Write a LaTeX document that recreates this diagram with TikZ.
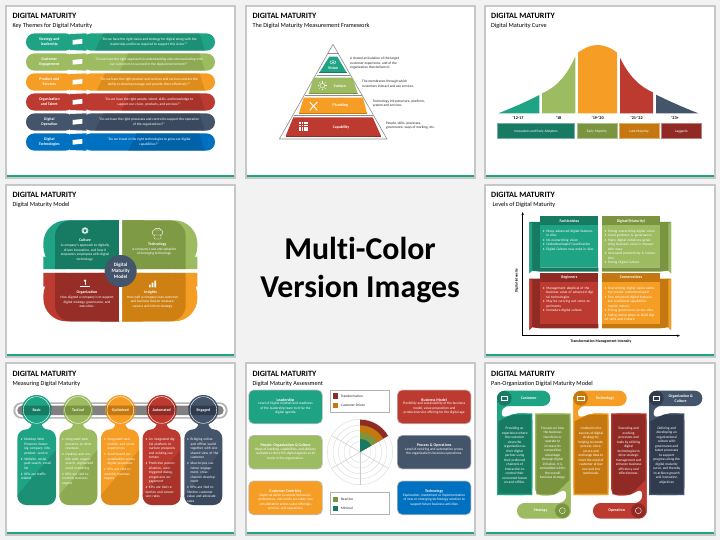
\documentclass[tikz,border=0pt]{standalone}
\usepackage{fontspec}
\setmainfont{Carlito}[Ligatures=NoCommon]
\usetikzlibrary{arrows.meta}
\definecolor{teal1}{HTML}{1FA385}
\definecolor{teal2}{HTML}{177A62}
\definecolor{green1}{HTML}{9DBB61}
\definecolor{green2}{HTML}{7A9440}
\definecolor{orange1}{HTML}{F59D24}
\definecolor{orange2}{HTML}{C4780F}
\definecolor{red1}{HTML}{BC3A30}
\definecolor{red2}{HTML}{8F2B24}
\definecolor{navy1}{HTML}{44546A}
\definecolor{navy2}{HTML}{303C4E}
\definecolor{blue1}{HTML}{0070C0}
\definecolor{blue2}{HTML}{005490}
\tikzset{
  paneltitle/.style={anchor=west,inner sep=0,font=\bfseries\fontsize{8.1}{9}\selectfont},
  panelsub/.style={anchor=west,inner sep=0,font=\fontsize{6.2}{7}\selectfont},
  wtext/.style={inner sep=0,align=center,text=white,font=\fontsize{3.55}{4.5}\selectfont},
  wbold/.style={inner sep=0,align=center,text=white,font=\bfseries\fontsize{3.9}{5}\selectfont},
  btext/.style={inner sep=0,align=left,anchor=west,text=black!85,font=\fontsize{3.55}{4.5}\selectfont},
  listbox/.style={inner sep=0,anchor=north west,text=white,align=left,font=\fontsize{3.55}{4.5}\selectfont},
  iconline/.style={draw=white,line width=.35pt},
}
\newcommand{\slidepanel}[4]{
  \fill[black!22] (#1-6,#2-6) rectangle (707,#2+516);
  \fill[white] (#1,#2) rectangle (701,#2+510);
  \fill[teal1] (#1,#2+504) rectangle (701,#2+510);
  \node[paneltitle] (#4title) at (#1+16,#2+28) {DIGITAL MATURITY};
  \node[panelsub] (#4sub) at (#1+16,#2+58) {#3};
}
\newcommand{\bitem}[1]{\par\hangindent=3.4pt\hangafter=1\noindent\makebox[3.4pt][l]{\textbullet}#1}
\begin{document}
\begin{tikzpicture}[x=0.33333pt,y=-0.33333pt]
\useasboundingbox (0,0) rectangle (2160,1620);
\fill[black!5] (0,0) rectangle (2160,1620);

% key themes
\begin{scope}
\slidepanel{21}{20}{Key Themes for Digital Maturity}{a}
\foreach \yy/\xl/\cola/\colb/\na/\nb in {
  126/285/teal1/teal2/{Strategy and\\leadership}/{``Do we have the right vision and strategy for digital along with the\\leadership and focus required to support this vision?''},
  186/360/green1/green2/{Customer\\Engagement}/{``Do we have the right approach to understanding and communicating with\\our customers to succeed in the digital environment?''},
  246/290/orange1/orange2/{Product and\\Services}/{``Do we have the right product and services and services and are the\\ability to develop manage and provide them effectively?''},
  306/365/red1/red2/{Organization\\and Talent}/{``Do we have the right people, talent, skills, and knowledge to\\support our vision, products, and services?''},
  366/285/navy1/navy2/{Digital\\Operation}/{``Do we have the right processes and control to support the operation\\of the organizations?''},
  426/385/blue1/blue2/{Digital\\Technologies}/{``Do we invest in the right technologies to grow our digital\\capabilities?''}}
{
  \fill[\cola,rounded corners=8.6pt] (78,\yy-26) rectangle (222,\yy+26);
  \fill[\cola,rounded corners=8.6pt] (248,\yy-26) rectangle (645,\yy+26);
  \fill[\cola] (210,\yy-24) -- (260,\yy-26) -- (260,\yy+26) -- (210,\yy+24) -- cycle;
  \begin{scope}
    \clip[rounded corners=8.6pt] (248,\yy-26) rectangle (645,\yy+26);
    \fill[\colb,opacity=.45] (\xl,\yy+26) -- (\xl+25,\yy-26) -- (598,\yy-26) -- (615,\yy+26) -- cycle;
  \end{scope}
  \fill[white] (218,\yy-6) -- (247,\yy-9) -- (247,\yy+5) -- (218,\yy+8) -- cycle;
  \node[wbold] (n\yy) at (148,\yy) {\na};
  \node[wtext] (q\yy) at (447,\yy) {\nb};
}
\end{scope}

% pyramid
\begin{scope}[shift={(720,0)}]
\slidepanel{21}{20}{The Digital Maturity Measurement Framework}{b}
\draw[black!45,line width=.6pt,line join=round] (279,133) -- (441,417) -- (118,417) -- cycle;
\draw[black!45,line width=.5pt] (263,160) -- (296,160) (230,226) -- (330,226) (195,287) -- (366,287) (161,347) -- (400,347);
\fill[teal1] (268,170) -- (292,170) -- (320,218) -- (238,218) -- cycle;
\fill[green1] (221,233) -- (338,233) -- (353,281) -- (206,281) -- cycle;
\fill[orange1] (191,293) -- (369,293) -- (381,340) -- (177,340) -- cycle;
\fill[red1] (160,352) -- (398,352) -- (423,408) -- (137,408) -- cycle;
\draw[teal2,line width=.5pt] (238,218) -- (320,218);
\draw[green2,line width=.5pt] (206,281) -- (353,281);
\draw[orange2,line width=.5pt] (177,340) -- (381,340);
\draw[red2,line width=.5pt] (137,408) -- (423,408);
\draw[iconline] (279,187) ellipse (9 and 5);
\fill[white] (279,187) circle (2.5);
\draw[iconline] (247,257) circle (7);
\foreach \ang in {0,45,...,315}
{
  \draw[iconline] (247,257) ++(\ang:9) -- ++(\ang:5);
}
\draw[white,line width=.9pt] (209,306) -- (232,331) (232,306) -- (209,331);
\foreach \xx in {178,185,192,199}
{
  \foreach \yy in {367,374,381,388}
  {
    \fill[white] (\xx,\yy) rectangle +(5,5);
  }
}
\node[wbold] (pv) at (279,203) {Vision};
\node[wbold] (ps) at (300,258) {Surface};
\node[wbold] (pp) at (301,317) {Plumbing};
\node[wbold] (pc) at (303,381) {Capability};
\node[btext] (tv) at (330,190) {A shared articulation of the target\\customer experience, and of the\\organization that delivers it.};
\node[btext] (ts) at (366,251) {The membranes through which\\customers interact and use services};
\node[btext] (tp) at (398,310) {Technology infrastructure, platform,\\system and services};
\node[btext] (tc) at (438,377) {People, skills, processes,\\governance, ways of working, etc.};
\end{scope}

% curve
\begin{scope}[shift={(1440,0)}]
\slidepanel{17}{20}{Digital Maturity Curve}{c}
\fill[teal1] (55,340) .. controls (100,322) and (140,305) .. (178,285) -- (178,340) -- cycle;
\fill[green1] (186,340) -- (186,280) .. controls (235,258) and (260,225) .. (286,170) -- (286,340) -- cycle;
\fill[orange1] (294,340) -- (294,158) .. controls (315,142) and (335,135) .. (352,135) .. controls (370,135) and (392,142) .. (411,158) -- (411,340) -- cycle;
\fill[red1] (420,340) -- (420,173) .. controls (445,225) and (475,258) .. (519,277) -- (519,340) -- cycle;
\fill[navy1] (528,340) -- (528,284) .. controls (570,305) and (610,322) .. (655,340) -- cycle;
\foreach \xx/\lab/\nm in {114/'12-17/ya,236/'18/yb,353/'19-'20/yc,470/'21-'22/yd,585/'23+/ye}
{
  \node[inner sep=0,font=\bfseries\fontsize{4.2}{5}\selectfont] (\nm) at (\xx,354) {\lab};
}
\foreach \xa/\xb/\col/\lab/\nm in {52/284/teal2/Innovators and Early Adopters/sa,291/411/green2/Early Majority/sb,418/537/orange2/Late Majority/sc,545/664/red2/Laggards/sd}
{
  \fill[\col] (\xa,371) rectangle (\xb,416);
  \draw[\col!60!white,line width=.4pt] (\xa,371) rectangle (\xb,416);
  \node[wtext] (\nm) at ({(\xa+\xb)/2},394) {\lab};
}
\end{scope}

% model
\begin{scope}[shift={(0,540)}]
\slidepanel{21}{17}{Digital Maturity Model}{d}
\fill[teal1,rounded corners=23pt] (357,121) -- (130,121) -- (130,268) -- (357,268);
\fill[teal1] (300,121) rectangle (357,268) (130,230) rectangle (200,268);
\fill[teal2,rounded corners=16pt] (357,121) -- (165,121) -- (165,268) -- (357,268);
\fill[teal2] (300,121) rectangle (357,268) (165,230) rectangle (200,268);
\fill[green1,rounded corners=23pt] (366,121) -- (592,121) -- (592,268) -- (366,268);
\fill[green1] (366,121) rectangle (430,268) (530,230) rectangle (592,268);
\fill[green2!85!green1,rounded corners=16pt] (366,121) -- (557,121) -- (557,268) -- (366,268);
\fill[green2!85!green1] (366,121) rectangle (430,268) (520,230) rectangle (557,268);
\fill[red1,rounded corners=23pt] (357,278) -- (130,278) -- (130,424) -- (357,424);
\fill[red1] (300,278) rectangle (357,424) (130,278) rectangle (200,320);
\fill[red2!85!red1,rounded corners=16pt] (357,278) -- (165,278) -- (165,424) -- (357,424);
\fill[red2!85!red1] (300,278) rectangle (357,424) (165,278) rectangle (200,320);
\fill[orange1,rounded corners=23pt] (366,278) -- (592,278) -- (592,424) -- (366,424);
\fill[orange1] (366,278) rectangle (430,424) (530,278) rectangle (592,320);
\fill[orange2!80!orange1,rounded corners=16pt] (366,278) -- (557,278) -- (557,424) -- (366,424);
\fill[orange2!80!orange1] (366,278) rectangle (430,424) (520,278) rectangle (557,320);
\fill[white] (130,268) rectangle (592,278) (357,121) rectangle (366,424);
\fill[navy1] (362,273) circle (48);
\node[inner sep=0,align=center,text=white,font=\bfseries\fontsize{5}{5.9}\selectfont] (mc) at (362,273) {Digital\\Maturity\\Model};
% icons
\draw[iconline] (255,152) circle (7);
\foreach \ang in {0,45,...,315}
{
  \draw[iconline] (255,152) ++(\ang:7) circle (3);
}
\draw[iconline,rounded corners=1pt] (458,150) rectangle (487,165) (462,165) rectangle (483,177) (463,150) -- (463,146) -- (482,146) -- (482,150);
\draw[iconline] (255,300) -- (255,316) (240,320) -- (270,320);
\fill[white] (255,302) circle (4);
\fill[white] (447,322) rectangle +(5,-8) (455,322) rectangle +(5,-14) (463,322) rectangle +(5,-20);
\node[wbold] (ma) at (255,181) {Culture};
\node[wtext] (mb) at (255,217) {A company's approach to digitally\\driven innovation, and how it\\empowers employees with digital\\technology.};
\node[wbold] (md) at (472,192) {Technology};
\node[wtext] (me) at (463,214) {A company's use and adoption\\of emerging technology.};
\node[wbold] (mf) at (261,338) {Organization};
\node[wtext] (mg) at (261,366) {How aligned a company is to support\\digital strategy, governance, and\\execution.};
\node[wbold] (mh) at (452,338) {Insights};
\node[wtext] (mi) at (458,366) {How well a company uses customer\\and business data to measure,\\success and inform strategy.};
\end{scope}

% centre text
\node[inner sep=0,align=center,font=\bfseries\fontsize{31.8}{38}\selectfont] (big) at (1080,810) {Multi-Color\\Version Images};

% levels
\begin{scope}[shift={(1440,540)}]
\slidepanel{17}{17}{\ Levels of Digital Maturity}{e}
\foreach \xa/\xb/\xc/\xd/\ya/\yb/\yc/\cola/\colb in {
  180/355/148/156/109/262/280/teal1/teal2,
  540/366/573/565/109/262/280/green1/green2,
  180/355/148/156/279/432/450/red1/red2,
  540/366/573/565/279/432/450/orange1/orange2}
{
  \fill[\colb] (\xc,\ya+17) -- (\xa,\ya+17) -- (\xa,\yb) -- (\xb,\yb) -- (\xb,\yb+13) -- (\xa,\yb+13) -- (\xd,\yb+10) -- (\xc,\yc) -- cycle;
  \fill[\cola] (\xc,\ya+17) -- (\xd,\ya+22) -- (\xd,\yb+10) -- (\xc,\yc) -- cycle;
  \fill[\cola] (\xa,\ya) rectangle (\xb,\yb);
  \fill[\colb] (\xa,\ya) rectangle (\xb,\ya+26);
}
\draw[line width=.6pt,-{Stealth[length=3pt,width=2.4pt]}] (128,467) -- (128,96);
\draw[line width=.6pt,-{Stealth[length=3pt,width=2.4pt]}] (128,467) -- (600,467);
\node[inner sep=0,rotate=90,font=\bfseries\fontsize{3.6}{4.5}\selectfont] (ly) at (110,302) {Digital Intensity};
\node[inner sep=0,font=\bfseries\fontsize{3.8}{4.5}\selectfont] (lx) at (363,485) {Transformation Management Intensity};
\node[wbold] (la) at (268,123) {Fashionistas};
\node[wbold] (lb) at (453,123) {Digirati(Maturity)};
\node[wbold] (lc) at (268,292) {Beginners};
\node[wbold] (ld) at (453,292) {Conservatives};
\node[listbox,text width=52pt] (le) at (188,143) {\bitem{Many advanced digital features in silos}\bitem{No overarching vision}\bitem{Underdeveloped Coordination}\bitem{Digital Culture may exist in silos}};
\node[listbox,text width=52pt] (lf) at (373,143) {\bitem{Strong overarching digital vision}\bitem{Good guidance \& governance}\bitem{Many digital initiatives generating business value in measurable ways}\bitem{Increased productivity \& innovation}\bitem{Strong Digital Culture}};
\node[listbox,text width=52pt] (lg) at (188,313) {\bitem{Management skeptical of the business value of advanced digital technologies}\bitem{May be carrying out some experiments}\bitem{Immature digital culture}};
\node[listbox,text width=52pt] (lh) at (373,313) {\bitem{Overarching digital vision exists, but maybe underdeveloped}\bitem{Few advanced digital features, but traditional capabilities maybe mature}\bitem{Strong governance across silos}\bitem{Taking active steps to build digital skills and Culture}};
\end{scope}

% measuring
\begin{scope}[shift={(0,1080)}]
\slidepanel{21}{13}{Measuring Digital Maturity}{f}
\fill[black!30,rounded corners=8pt] (40,127) rectangle (683,176);
\fill[white,rounded corners=6.5pt] (46,132) rectangle (677,171);
\fill[black!50,rounded corners=4.5pt] (52,137) rectangle (671,165);
\foreach \cx/\xa/\xb/\cola/\colb/\hd/\nm in {
  110/52/168/teal1/teal2/Basic/ga,
  234/178/292/green1/green2/Tactical/gb,
  361/303/417/orange1/orange2/Optimized/gc,
  485/428/542/red1/red2/Automated/gd,
  610/553/667/navy1/navy2/Engaged/ge}
{
  \fill[\cola] (\cx,150) circle (45);
  \fill[\cola] (\cx-15,188) -- (\cx+15,188) .. controls (\cx+15,200) and (\cx+20,205) .. (\cx+32,210) -- (\cx-32,210) .. controls (\cx-20,205) and (\cx-15,200) .. (\cx-15,188) -- cycle;
  \fill[\cola,rounded corners=9pt] (\xa,208) rectangle (\xb,435);
  \begin{scope}
    \clip[rounded corners=9pt] (\xa,208) rectangle (\xb,435);
    \fill[\colb,opacity=.45] (\xb,270) -- (\xb,435) -- (\xa,435) -- (\xa,405) -- cycle;
  \end{scope}
  \fill[\colb] (\cx-45,137) -- (\cx+45,137) -- (\cx+42,165) -- (\cx-42,165) -- cycle;
  \draw[white,line width=.4pt] (\cx,150) circle (40);
  \node[wbold] (\nm) at (\cx,151) {\hd};
}
\tikzset{gitem/.style={listbox,text width=32pt}}
\node[gitem] (gta) at (62,224) {\setlength{\parskip}{1.5pt}\bitem{Desktop Web Presence featuring company info, product, service}\bitem{Website, social, paid search, email list}\bitem{KPIs are traffic-related}};
\node[gitem] (gtb) at (186,224) {\setlength{\parskip}{1.5pt}\bitem{Integrated web presence to drive revenues}\bitem{Desktop and mobile web, organic search, segmented email marketing}\bitem{KPIs are tied to monthly business targets}};
\node[gitem] (gtc) at (312,224) {\setlength{\parskip}{1.5pt}\bitem{Integrated web, mobile, and social experiences}\bitem{Asset-based personalization across digital properties}\bitem{KPIs are tied to monthly business targets}};
\node[gitem] (gtd) at (436,224) {\setlength{\parskip}{1.5pt}\bitem{An integrated digital platform to nurture prospects and existing customers}\bitem{Predictive personalization, auto-triggered dialog, progressive engagement}\bitem{KPIs are tied retention and conversion rates}};
\node[gitem] (gte) at (561,224) {\setlength{\parskip}{1.5pt}\bitem{Bridging online and offline world together with one shared view of the customer}\bitem{Idea-to-pos customer engagement, cross-channel development}\bitem{KPIs are tied to lifetime customer value and advocate rates}};
\end{scope}

% assessment
\begin{scope}[shift={(720,1080)}]
\slidepanel{21}{13}{Digital Maturity Assessment}{g}
\foreach \xa/\xb/\ya/\col/\hd/\bd/\nm in {
  27/246/91/teal1/Leadership/{Level of Digital mindset and readiness\\of the leadership team to drive the\\digital agenda}/ha,
  27/246/227/green1/{People, Organization \& Culture}/{Ways of working, capabilities, and skillsets\\available to drive the digital agenda at all\\levels in the organization.}/hb,
  27/246/364/orange1/Customer Centricity/{Depth at which customer behaviors,\\preferences, and needs are taken into\\consideration across value offerings,\\services, and operations.}/hc,
  473/692/91/red1/Business Model/{Flexibility and sustainability of the business\\model, value proposition and\\product/service offering for the digital age}/hd,
  473/692/227/navy1/Process \& Operations/{Level of rewiring and automation across\\the organization's business operations.}/he,
  473/692/364/blue1/Technology/{Exploration, investment or implementation\\of new or emerging technology solution to\\support future business activities}/hf}
{
  \fill[black!25,rounded corners=5pt] (\xa-2,\ya-2) rectangle (\xb+2,\ya+101);
  \fill[\col,rounded corners=5pt] (\xa,\ya) rectangle (\xb,\ya+99);
  \node[wbold] (\nm t) at ({(\xa+\xb)/2},\ya+29) {\hd};
  \node[wtext,anchor=north] (\nm b) at ({(\xa+\xb)/2},\ya+36) {\bd};
}
\foreach \ya in {91,397}
{
  \draw[black!30,line width=.6pt] (271,\ya) rectangle (448,\ya+66);
}
\foreach \yy/\col/\lab/\nm in {108/red2/Transformation/ka,136/orange2/Customer-Driven/kb,418/green2/Reactive/kc,446/teal2/Minimal/kd}
{
  \fill[\col] (279,\yy-8) rectangle (295,\yy+8);
  \node[btext] (\nm) at (302,\yy) {\lab};
}
\foreach \rr in {32,48,65,81,98}
{
  \draw[black!15,line width=.4pt] (360,276) circle (\rr);
}
\foreach \ang in {-150,-90,-30,30,90,150}
{
  \draw[black!20,line width=.5pt] (360,276) -- ++(\ang:98);
}
\foreach \rr/\col in {97/red2,80/orange2,59/green2,39/teal2}
{
  \fill[\col] (360,276) -- ++(-90:\rr) arc[start angle=-90,end angle=-30,radius=\rr] -- cycle;
}
\end{scope}

% pan organization
\begin{scope}[shift={(1440,1080)}]
\slidepanel{17}{13}{Pan-Organization Digital Maturity Model}{h}
\foreach \xa/\cola/\colb/\hd/\nm in {
  51/teal1/teal2/Customer/ja,
  280/orange1/orange2/Technology/jb,
  507/navy1/navy2/{Organization \&\\Culture}/jc}
{
  \fill[\cola,rounded corners=7.6pt] (\xa,92) -- (\xa+160,92) -- (\xa+160,138) -- (\xa+13,138) -- (\xa+13,180) -- (\xa+45,160) -- (\xa+106,160) -- (\xa+106,405) -- (\xa,405) -- cycle;
  \fill[\cola] (\xa,110) rectangle (\xa+13,405) (\xa,170) rectangle (\xa+106,405) (\xa+60,160) rectangle (\xa+106,405);
  \fill[\colb] (\xa+4,184) -- (\xa+45,164) -- (\xa+102,164) -- (\xa+102,401) -- (\xa+4,401) -- cycle;
  \fill[\colb] (\xa+22,115) circle (22);
  \draw[iconline] (\xa+12,108) rectangle +(20,14);
  \node[wbold] (\nm) at (\xa+95,115) {\hd};
}
\foreach \xa/\cola/\colb/\hd/\nm in {
  165/green1/green2/Strategy/jd,
  393/red1/red2/Operation/je}
{
  \fill[\cola,rounded corners=7.6pt] (\xa+107,476) -- (\xa-54,476) -- (\xa-54,429) -- (\xa+94,429) -- (\xa+94,382) -- (\xa+60,407) -- (\xa,407) -- (\xa,160) -- (\xa+107,160) -- cycle;
  \fill[\cola] (\xa+94,375) rectangle (\xa+107,460) (\xa,160) rectangle (\xa+107,382);
  \fill[\colb] (\xa+4,164) -- (\xa+103,164) -- (\xa+103,360) -- (\xa+60,403) -- (\xa+4,403) -- cycle;
  \fill[\colb] (\xa+82,452) circle (22);
  \draw[iconline] (\xa+82,452) circle (9);
  \node[wbold] (\nm) at (\xa+17,452) {\hd};
}
\node[wtext] (jta) at (104,286) {Providing an\\experience where\\the customer\\views the\\organization as\\their digital\\partner using\\their preferred\\channels of\\interaction to\\control their\\connected future\\on and offline.};
\node[wtext] (jtb) at (218,279) {Focuses on how\\the business\\transform or\\operate to\\increase its\\competitive\\advantage\\through digital\\initiative. It is\\embedded within\\the overall\\business strategy.};
\node[wtext] (jtc) at (333,273) {Underpins the\\success of digital\\strategy by\\helping to create,\\process, store,\\secure and\\exchange data to\\meet the need of\\customer at low\\cost and low\\overheads.};
\node[wtext] (jtd) at (446,273) {Executing and\\evolving\\processes and\\tasks by utilizing\\digital\\technologies to\\drive strategic\\management and\\enhance business\\efficiency and\\effectiveness.};
\node[wtext] (jte) at (560,286) {Defining and\\developing an\\organizational\\culture with\\governance and\\talent processes\\to support\\progress along the\\digital maturity\\curve, and thereby\\to achieve growth\\and innovation\\objectives};
\end{scope}
\end{tikzpicture}
\end{document}
